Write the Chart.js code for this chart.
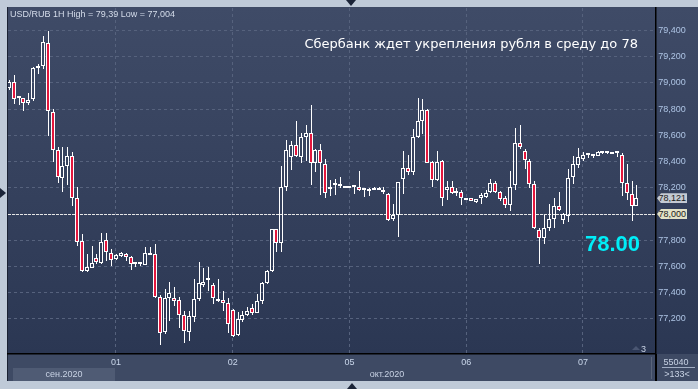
<!DOCTYPE html>
<html lang="ru">
<head>
<meta charset="UTF-8">
<script src="https://cdn.jsdelivr.net/npm/chart.js"></script>
<title>USD/RUB 1H</title>
<style>
  body{margin:0;width:698px;height:389px;background:#bfcad8;position:relative;overflow:hidden;font-family:"Liberation Sans",Arial,sans-serif;}
  #panel{position:absolute;left:7px;top:7px;width:691px;height:374px;background:#3e4a64;border-left:1px solid #1b2233;box-sizing:border-box;}
  #plotbg{position:absolute;left:8px;top:8px;width:690px;height:346px;background:linear-gradient(#3f4b67,#2b3753);}
  #monthSel{position:absolute;left:13px;top:368px;width:102px;height:13px;background:#4f5b74;}
  #sep{position:absolute;left:651px;top:357px;width:1px;height:22px;background:#59647a;}
  #axisV{position:absolute;left:655px;top:354px;width:1.5px;height:27px;background:#000;}
  canvas{position:absolute;left:0;top:0;}
  .txt{position:absolute;white-space:nowrap;line-height:1;}
  #title{left:10px;top:10px;font-size:9px;color:#d4dcea;}
  #news{right:60px;top:37px;font-size:13px;color:#fff;font-family:"DejaVu Sans",sans-serif;}
  #big{left:585px;top:233px;font-size:22px;font-weight:bold;color:#00eef8;}
  .tag{position:absolute;left:657px;width:30px;height:10px;clip-path:polygon(0 50%,4px 0,100% 0,100% 100%,4px 100%);font-size:9px;line-height:10px;color:#1a1a1a;text-align:right;padding-right:1px;box-sizing:border-box;}
  #lastTag{background:#c4cad3;}
  #refTag{background:#e2e2c6;}
  .m{font-size:9px;color:#c8d2e4;transform:translateX(-50%);}
  #cnt{left:676px;top:358px;}
  #bars{left:677px;top:370px;}
  #cntLine{position:absolute;left:662px;top:367px;width:33px;height:1px;background:#a0acc2;}
  #three{left:641px;top:345px;font-size:9px;color:#c8d2e4;}
  #triUp3{position:absolute;left:632px;top:346px;width:0;height:0;border-left:4px solid transparent;border-right:4px solid transparent;border-bottom:4px solid #4a5672;}
  .tri{position:absolute;width:0;height:0;}
  #triL{left:0;top:188px;border-top:5px solid transparent;border-bottom:5px solid transparent;border-left:6px solid #1b2438;}
  #triT{left:346px;top:0;border-left:5px solid transparent;border-right:5px solid transparent;border-top:6px solid #1b2438;}
  #triB{left:347px;top:383px;border-left:5px solid transparent;border-right:5px solid transparent;border-bottom:6px solid #1b2438;}
</style>
</head>
<body>
<div id="panel"></div>
<div id="plotbg"></div>
<div id="monthSel"></div>
<div id="sep"></div>
<div id="axisV"></div>
<canvas id="myChart" width="698" height="389"></canvas>
<div class="txt" id="title">USD/RUB 1H High = 79,39 Low = 77,004</div>
<div class="txt" id="news">Сбербанк ждет укрепления рубля в среду до 78</div>
<div class="txt" id="big">78.00</div>
<div class="tag" id="lastTag">78,121</div>
<div class="tag" id="refTag">78,000</div>
<div class="txt m" style="left:64px;top:370px;">сен.2020</div>
<div class="txt m" style="left:387px;top:370px;">окт.2020</div>
<div class="txt m" id="cnt">55040</div>
<div id="cntLine"></div>
<div class="txt m" id="bars">&gt;133&lt;</div>
<div id="triUp3"></div>
<div class="txt" id="three">3</div>
<div class="tri" id="triL"></div>
<div class="tri" id="triT"></div>
<div class="tri" id="triB"></div>
<script>
  // часовые свечи USD/RUB, 30.09 - 07.10.2020
  const opens = [78.96,79.006,78.884,78.884,78.844,78.874,79.112,79.128,79.303,78.778,
    78.489,78.276,78.365,78.443,78.124,77.794,77.566,77.591,77.668,77.624,
    77.799,77.703,77.655,77.683,77.698,77.675,77.622,77.620,77.614,77.706,
    77.693,77.368,77.097,77.356,77.363,77.343,77.226,77.097,77.211,77.348,
    77.46,77.495,77.460,77.343,77.343,77.318,77.267,77.080,77.194,77.229,
    77.282,77.247,77.338,77.470,77.566,77.883,77.782,78.208,78.433,78.529,
    78.433,78.585,78.618,78.390,78.489,78.382,78.193,78.218,78.213,78.215,
    78.200,78.204,78.205,78.181,78.179,78.181,78.181,78.171,78.154,77.964,
    77.992,78.268,78.352,78.322,78.588,78.707,78.793,78.398,78.261,78.403,
    78.180,78.205,78.162,78.167,78.104,78.126,78.093,78.119,78.131,78.170,
    78.238,78.167,78.119,78.068,78.220,78.545,78.484,78.408,78.230,77.878,
    77.815,77.891,77.964,78.061,77.952,77.984,78.281,78.377,78.420,78.448,
    78.440,78.446,78.465,78.462,78.460,78.462,78.453,78.238,78.154,78.061];
  const highs = [79.02,79.062,78.89,78.887,78.922,79.12,79.143,79.358,79.396,78.803,
    78.514,78.514,78.514,78.474,78.208,77.845,77.693,77.756,77.693,77.853,
    77.858,77.736,77.693,77.708,77.70,77.68,77.632,77.630,77.751,77.751,
    77.769,77.381,77.427,77.48,77.44,77.368,77.262,77.262,77.503,77.637,
    77.586,77.599,77.477,77.503,77.414,77.363,77.275,77.249,77.257,77.293,
    77.313,77.389,77.485,77.571,77.883,77.883,78.365,78.567,78.555,78.707,
    78.618,78.676,78.829,78.499,78.535,78.423,78.26,78.27,78.284,78.215,
    78.200,78.205,78.332,78.20,78.20,78.207,78.207,78.207,78.162,78.073,
    78.246,78.479,78.453,78.651,78.889,78.879,78.801,78.403,78.479,78.415,
    78.25,78.25,78.195,78.187,78.126,78.126,78.116,78.162,78.187,78.268,
    78.25,78.175,78.137,78.332,78.656,78.676,78.499,78.423,78.25,77.896,
    77.990,78.073,78.124,78.170,78.01,78.347,78.441,78.504,78.471,78.455,
    78.445,78.479,78.47,78.48,78.465,78.47,78.466,78.383,78.25,78.225];
  const lows = [78.95,78.839,78.834,78.783,78.834,78.859,79.069,79.105,78.593,78.398,
    78.235,78.167,78.225,78.061,77.756,77.554,77.561,77.586,77.617,77.617,
    77.642,77.604,77.647,77.673,77.642,77.571,77.597,77.607,77.609,77.685,
    77.358,77.004,77.085,77.186,77.30,77.130,77.014,77.034,77.178,77.333,
    77.44,77.414,77.313,77.325,77.262,77.090,77.065,77.072,77.178,77.219,
    77.232,77.242,77.313,77.465,77.561,77.711,77.711,78.175,78.339,78.433,
    78.390,78.403,78.225,78.322,78.144,78.119,78.135,78.145,78.195,78.200,
    78.200,78.154,78.175,78.131,78.137,78.18,78.18,78.15,77.947,77.947,
    77.825,78.149,78.301,78.296,78.580,78.611,78.390,78.205,78.251,78.061,
    78.11,78.149,78.137,78.068,78.104,78.098,78.083,78.078,78.124,78.162,
    78.162,78.098,78.048,78.023,78.187,78.499,78.347,78.195,77.883,77.622,
    77.769,77.870,77.896,78.023,77.926,77.939,78.230,78.352,78.408,78.43,
    78.43,78.441,78.46,78.455,78.458,78.435,78.136,78.104,77.946,78.061];
  const closes = [79.01,78.879,78.89,78.844,78.869,79.112,79.118,79.310,78.783,78.486,
    78.284,78.365,78.443,78.124,77.789,77.566,77.599,77.630,77.635,77.789,
    77.713,77.647,77.685,77.701,77.675,77.622,77.625,77.622,77.706,77.691,
    77.368,77.090,77.356,77.401,77.338,77.226,77.105,77.219,77.348,77.470,
    77.485,77.497,77.363,77.340,77.318,77.160,77.072,77.199,77.229,77.257,
    77.247,77.333,77.470,77.566,77.883,77.782,78.208,78.491,78.529,78.441,
    78.588,78.618,78.390,78.491,78.390,78.162,78.208,78.222,78.217,78.200,
    78.202,78.206,78.180,78.183,78.181,78.183,78.183,78.168,77.952,77.990,
    78.246,78.352,78.322,78.588,78.707,78.793,78.390,78.256,78.398,78.119,
    78.208,78.162,78.175,78.119,78.126,78.098,78.116,78.144,78.162,78.238,
    78.170,78.116,78.068,78.205,78.545,78.512,78.415,78.230,77.891,77.820,
    77.891,77.964,78.061,78.033,77.997,78.276,78.382,78.433,78.451,78.450,
    78.442,78.471,78.467,78.464,78.462,78.464,78.238,78.162,78.061,78.124];

  const dayTicks = [22, 46, 70, 94, 118];
  const dayLabels = ['01', '02', '05', '06', '07'];
  const yTicks = [77.2, 77.4, 77.6, 77.8, 78.0, 78.2, 78.4, 78.6, 78.8, 79.0, 79.2, 79.4];
  const refLevel = 78.0;
  const lastPrice = 78.121;

  const idx = opens.map((o, i) => i);
  const font9 = {family: 'Liberation Sans', size: 9};

  // пунктир уровня 78.000 под свечами
  const refLine = {
    id: 'refLine',
    beforeDatasetsDraw(chart) {
      const {ctx, chartArea: a, scales: {y}} = chart;
      const py = Math.round(y.getPixelForValue(refLevel)) + 0.5;
      ctx.save();
      ctx.strokeStyle = '#e6e6e6';
      ctx.lineWidth = 1;
      ctx.setLineDash([3, 1]);
      ctx.beginPath();
      ctx.moveTo(a.left, py);
      ctx.lineTo(a.right, py);
      ctx.stroke();
      ctx.restore();
    }
  };

  // выравнивание свечей по пикселям, чтобы было четко
  const snap = {
    id: 'snap',
    afterDatasetsUpdate(chart) {
      chart.data.datasets.forEach((ds, d) => {
        chart.getDatasetMeta(d).data.forEach(el => {
          el.x = d === 0 ? Math.round(el.x) : Math.round(el.x) + 0.5;
          el.y = Math.round(el.y);
          el.base = Math.round(el.base);
        });
      });
    }
  };

  const barBase = {grouped: false, inflateAmount: 0, borderSkipped: false};

  const chart = new Chart(document.getElementById('myChart'), {
    type: 'bar',
    data: {
      datasets: [
        Object.assign({
          label: 'body',
          data: idx.map(i => ({x: i, y: [opens[i], closes[i]]})),
          backgroundColor: idx.map(i => closes[i] < opens[i] ? '#e3173d' : 'rgba(0,0,0,0)'),
          borderColor: '#ffffff',
          borderWidth: 1,
          barThickness: 4,
          minBarLength: 2
        }, barBase),
        Object.assign({
          label: 'upper',
          data: idx.map(i => ({x: i, y: [Math.max(opens[i], closes[i]), highs[i]]})),
          backgroundColor: '#ffffff',
          barThickness: 1
        }, barBase),
        Object.assign({
          label: 'lower',
          data: idx.map(i => ({x: i, y: [lows[i], Math.min(opens[i], closes[i])]})),
          backgroundColor: '#ffffff',
          barThickness: 1
        }, barBase)
      ]
    },
    options: {
      responsive: false,
      animation: false,
      devicePixelRatio: 1,
      layout: {padding: {left: 8, top: 8, right: 0, bottom: 0}},
      plugins: {legend: {display: false}, tooltip: {enabled: false}},
      scales: {
        x: {
          type: 'linear', min: -0.185, max: 132.98, offset: false,
          afterBuildTicks: s => { s.ticks = dayTicks.map(v => ({value: v})); },
          afterFit: s => { s.height = 35; },
          ticks: {
            callback: v => { const j = dayTicks.indexOf(v); return j < 0 ? '' : dayLabels[j]; },
            color: '#c9d6ea', font: font9, padding: 3, maxRotation: 0, autoSkip: false
          },
          grid: {color: '#56627d', offset: false, drawTicks: false, tickLength: 0},
          border: {display: true, color: '#000000', width: 1.5, dash: [3, 3]}
        },
        y: {
          position: 'right', min: 76.932, max: 79.572,
          afterBuildTicks: s => { s.ticks = yTicks.map(v => ({value: v})); },
          afterFit: s => { s.width = 42.2; },
          ticks: {
            callback: v => v.toFixed(3).replace('.', ','),
            color: '#aec4e4', font: font9, padding: 2.5
          },
          grid: {color: '#56627d', drawTicks: false, tickLength: 0},
          border: {display: true, color: '#000000', width: 1.5, dash: [3, 3]}
        }
      }
    },
    plugins: [refLine, snap]
  });

  // метки цены на правой шкале
  const ys = chart.scales.y;
  document.getElementById('lastTag').style.top = (ys.getPixelForValue(lastPrice) - 5) + 'px';
  document.getElementById('refTag').style.top = (ys.getPixelForValue(refLevel) - 5) + 'px';
</script>
</body>
</html>
